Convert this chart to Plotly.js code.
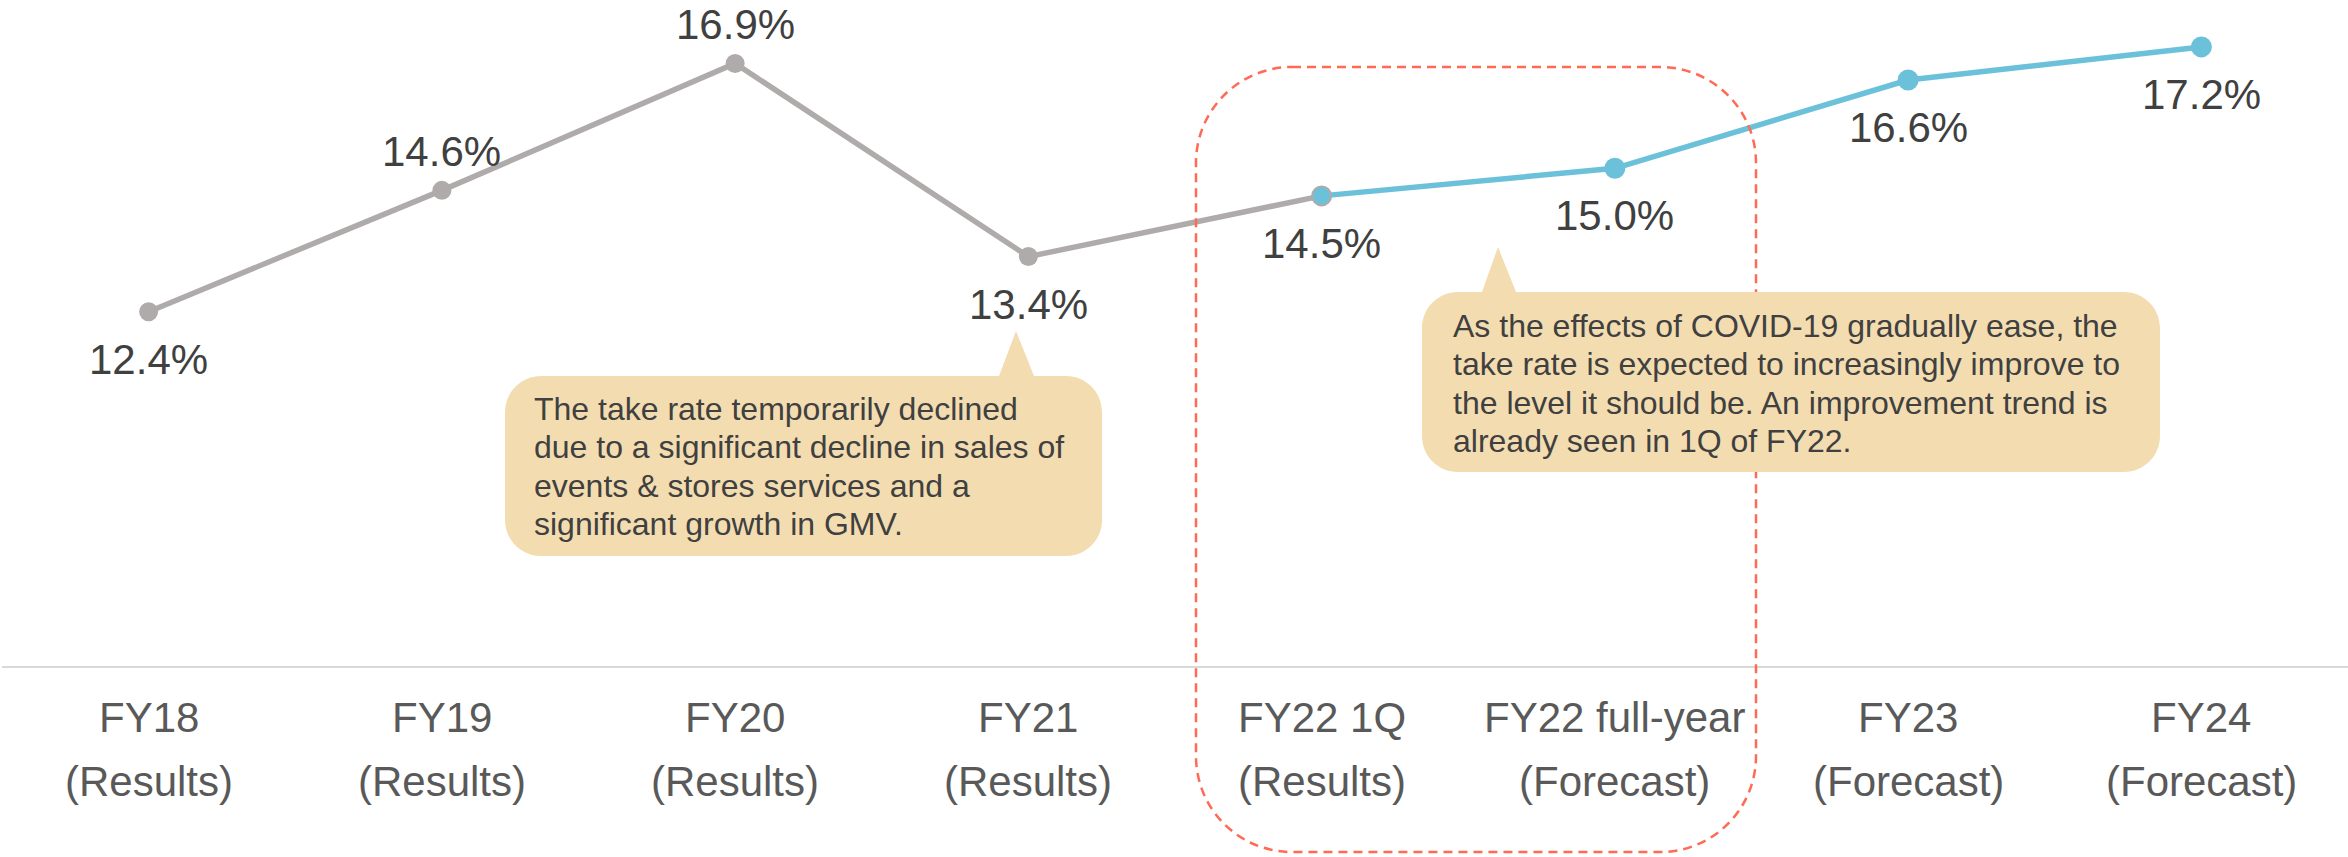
<!DOCTYPE html>
<html>
<head>
<meta charset="utf-8">
<script src="https://cdn.plot.ly/plotly-3.0.1.min.js"></script>
<style>
  html, body { margin: 0; padding: 0; background: #fff; }
  #chart { width: 2348px; height: 857px; }
</style>
</head>
<body>
<div id="chart"></div>
<script>
// take rate by fiscal year
var categories = ['FY18', 'FY19', 'FY20', 'FY21', 'FY22 1Q', 'FY22 full-year', 'FY23', 'FY24'];
var periodTypes = ['(Results)', '(Results)', '(Results)', '(Results)', '(Results)', '(Forecast)', '(Forecast)', '(Forecast)'];
var takeRate = [12.4, 14.6, 16.9, 13.4, 14.5, 15.0, 16.6, 17.2];
var lastResultIdx = 4;              // FY22 1Q is the last actual, forecast line starts there
var labelsAbove = ['FY19', 'FY20']; // these two labels sit over the point

var note1 = [
  'The take rate temporarily declined',
  'due to a significant decline in sales of',
  'events & stores services and a',
  'significant growth in GMV.'
];
var note2 = [
  'As the effects of COVID-19 gradually ease, the',
  'take rate is expected to increasingly improve to',
  'the level it should be. An improvement trend is',
  'already seen in 1Q of FY22.'
];

var GRAY = '#AFABAB', BLUE = '#6CC1DA', TXT = '#404040', TICK = '#595959';
var FONT = 'Liberation Sans, Arial, sans-serif';

// plot area in pixels (used to put the decorations in paper coords)
var L = 2, W = 2346, H = 666;
function px(x) { return (x - L) / W; }
function py(y) { return (H - y) / H; }

// rounded box path, optional tail on the top edge
function boxPath(x0, y0, x1, y1, r, tail) {
  var k = r * 0.5523;
  var p = 'M' + px(x0 + r) + ',' + py(y0);
  if (tail) {
    p += ' L' + px(tail[0]) + ',' + py(y0) +
         ' L' + px(tail[1]) + ',' + py(tail[2]) +
         ' L' + px(tail[3]) + ',' + py(y0);
  }
  p += ' L' + px(x1 - r) + ',' + py(y0) +
       ' C' + px(x1 - r + k) + ',' + py(y0) + ' ' + px(x1) + ',' + py(y0 + r - k) + ' ' + px(x1) + ',' + py(y0 + r) +
       ' L' + px(x1) + ',' + py(y1 - r) +
       ' C' + px(x1) + ',' + py(y1 - r + k) + ' ' + px(x1 - r + k) + ',' + py(y1) + ' ' + px(x1 - r) + ',' + py(y1) +
       ' L' + px(x0 + r) + ',' + py(y1) +
       ' C' + px(x0 + r - k) + ',' + py(y1) + ' ' + px(x0) + ',' + py(y1 - r + k) + ' ' + px(x0) + ',' + py(y1 - r) +
       ' L' + px(x0) + ',' + py(y0 + r) +
       ' C' + px(x0) + ',' + py(y0 + r - k) + ' ' + px(x0 + r - k) + ',' + py(y0) + ' ' + px(x0 + r) + ',' + py(y0) + ' Z';
  return p;
}

var results = {
  x: categories.slice(0, lastResultIdx + 1),
  y: takeRate.slice(0, lastResultIdx + 1),
  type: 'scatter', mode: 'lines+markers',
  line: { color: GRAY, width: 5.5 },
  marker: { color: GRAY, size: 19 },
  hoverinfo: 'skip'
};
var forecastMarkerLine = categories.slice(lastResultIdx).map(function (c, i) { return i === 0 ? GRAY : BLUE; });
var forecast = {
  x: categories.slice(lastResultIdx),
  y: takeRate.slice(lastResultIdx),
  type: 'scatter', mode: 'lines+markers',
  line: { color: BLUE, width: 5.5 },
  marker: { color: BLUE, size: 19, line: { color: forecastMarkerLine, width: 2 } },
  hoverinfo: 'skip'
};

var annotations = [];
// value labels
categories.forEach(function (c, i) {
  var above = labelsAbove.indexOf(c) >= 0;
  annotations.push({
    x: c, y: takeRate[i], xref: 'x', yref: 'y',
    text: takeRate[i].toFixed(1) + '%', showarrow: false,
    yanchor: 'middle', yshift: above ? 39 : -47, height: 34,
    font: { family: FONT, size: 42, color: TXT }
  });
  // two-line category labels under the axis
  annotations.push({
    x: c, y: 0, xref: 'x', yref: 'paper', text: c, showarrow: false,
    yanchor: 'middle', yshift: -51,
    font: { family: FONT, size: 42, color: TICK }
  });
  annotations.push({
    x: c, y: 0, xref: 'x', yref: 'paper', text: periodTypes[i], showarrow: false,
    yanchor: 'middle', yshift: -115,
    font: { family: FONT, size: 42, color: TICK }
  });
});
// callout text, one annotation per line
note1.forEach(function (t, i) {
  annotations.push({
    x: px(532), y: py(409 + i * 38.3), xref: 'paper', yref: 'paper',
    xanchor: 'left', yanchor: 'middle', text: t, showarrow: false,
    font: { family: FONT, size: 32, color: TXT }
  });
});
note2.forEach(function (t, i) {
  annotations.push({
    x: px(1451), y: py(326 + i * 38.3), xref: 'paper', yref: 'paper',
    xanchor: 'left', yanchor: 'middle', text: t, showarrow: false,
    font: { family: FONT, size: 32, color: TXT }
  });
});

var shapes = [
  // red dashed frame round FY22
  { type: 'path', xref: 'paper', yref: 'paper', layer: 'above',
    path: boxPath(1196, 67, 1756, 852, 96),
    line: { color: '#FF6A55', width: 2.5, dash: '9px,6px' } },
  // callouts
  { type: 'path', xref: 'paper', yref: 'paper', layer: 'above',
    path: boxPath(505, 376, 1102, 556, 36, [999, 1016, 331, 1034]),
    fillcolor: '#F3DDB0', line: { width: 0 } },
  { type: 'path', xref: 'paper', yref: 'paper', layer: 'above',
    path: boxPath(1422, 292, 2160, 472, 36, [1482, 1498, 247, 1516]),
    fillcolor: '#F3DDB0', line: { width: 0 } }
];

var layout = {
  width: 2348, height: 857,
  margin: { l: L, r: 0, t: 0, b: 857 - H },
  paper_bgcolor: '#fff', plot_bgcolor: '#fff',
  showlegend: false,
  xaxis: {
    type: 'category', categoryorder: 'array', categoryarray: categories,
    range: [-0.5, 7.5], showticklabels: false, ticks: '',
    showgrid: false, zeroline: false,
    showline: true, linecolor: '#D9D9D9', linewidth: 2
  },
  yaxis: { range: [5.98, 18.05], visible: false, showgrid: false, zeroline: false },
  shapes: shapes,
  annotations: annotations
};

Plotly.newPlot('chart', [results, forecast], layout, { displayModeBar: false, staticPlot: true });
</script>
</body>
</html>
